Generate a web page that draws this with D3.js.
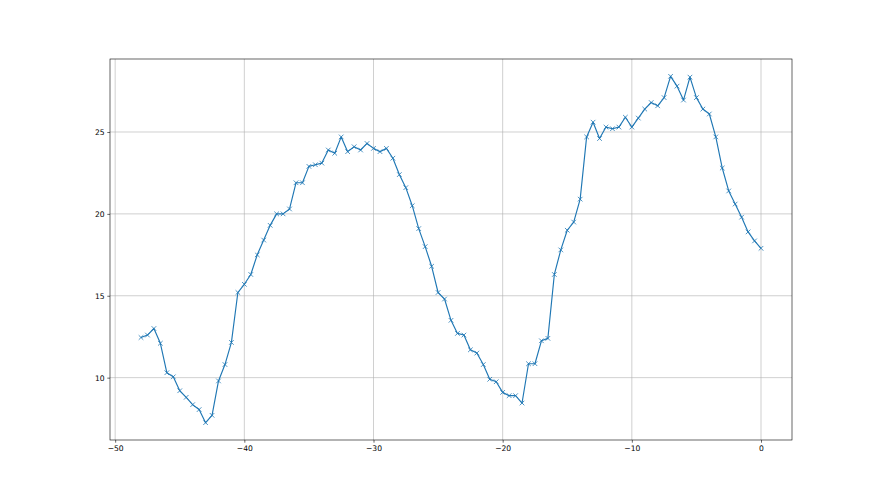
<!DOCTYPE html>
<html>
<head>
<meta charset="utf-8">
<script src="https://cdn.jsdelivr.net/npm/d3@7"></script>
<style>
  body { margin: 0; background: #fff; }
  svg text { font-family: "DejaVu Sans", sans-serif; font-size: 7.6px; fill: #000; }
</style>
</head>
<body>
<svg id="canvas" width="880" height="495"></svg>
<script>
// x runs from -48 to 0 in steps of 0.5
let xStart = -48;
let xStep = 0.5;
let yValues = [
  12.45, 12.6, 13.0, 12.1, 10.3, 10.05, 9.2, 8.8, 8.35, 8.05,
  7.25, 7.7, 9.8, 10.8, 12.15, 15.2, 15.7, 16.3, 17.5, 18.4,
  19.3, 20.0, 20.0, 20.3, 21.9, 21.9, 22.9, 23.0, 23.1, 23.9,
  23.7, 24.7, 23.8, 24.1, 23.9, 24.3, 24.0, 23.8, 24.0, 23.4,
  22.4, 21.6, 20.5, 19.1, 18.0, 16.8, 15.2, 14.8, 13.5, 12.7,
  12.6, 11.7, 11.5, 10.8, 9.9, 9.75, 9.1, 8.9, 8.9, 8.45,
  10.85, 10.85, 12.25, 12.4, 16.3, 17.8, 19.0, 19.5, 20.9, 24.7,
  25.6, 24.6, 25.3, 25.2, 25.3, 25.9, 25.3, 25.85, 26.4, 26.8,
  26.6, 27.1, 28.4, 27.8, 26.95, 28.35, 27.1, 26.4, 26.1, 24.7,
  22.8, 21.4, 20.6, 19.8, 18.9, 18.35, 17.9
];
let xTicks = [-50, -40, -30, -20, -10, 0];
let yTicks = [10, 15, 20, 25];

let points = yValues.map((v, i) => ({ x: xStart + i * xStep, y: v }));

let svg = d3.select('#canvas');
let plotLeft = 110, plotRight = 792, plotTop = 59, plotBottom = 440;

let xMin = d3.min(points, d => d.x), xMax = d3.max(points, d => d.x);
let yMin = d3.min(points, d => d.y), yMax = d3.max(points, d => d.y);
let xPad = (xMax - xMin) * 0.05, yPad = (yMax - yMin) * 0.05;

let x = d3.scaleLinear().domain([xMin - xPad, xMax + xPad]).range([plotLeft, plotRight]);
let y = d3.scaleLinear().domain([yMin - yPad, yMax + yPad]).range([plotBottom, plotTop]);

let fmt = d => (d < 0 ? '\u2212' + Math.abs(d) : '' + d);

// grid
svg.append('g')
  .selectAll('line')
  .data(xTicks)
  .enter()
  .append('line')
  .attr('x1', d => x(d)).attr('x2', d => x(d))
  .attr('y1', plotTop).attr('y2', plotBottom)
  .attr('stroke', '#b0b0b0').attr('stroke-width', 0.6);
svg.append('g')
  .selectAll('line')
  .data(yTicks)
  .enter()
  .append('line')
  .attr('x1', plotLeft).attr('x2', plotRight)
  .attr('y1', d => y(d)).attr('y2', d => y(d))
  .attr('stroke', '#b0b0b0').attr('stroke-width', 0.6);

// axes
let xAxis = svg.append('g')
  .attr('transform', 'translate(0,' + plotBottom + ')')
  .call(d3.axisBottom(x).tickValues(xTicks).tickFormat(fmt).tickSizeInner(2.7).tickSizeOuter(0).tickPadding(2.7));
let yAxis = svg.append('g')
  .attr('transform', 'translate(' + plotLeft + ',0)')
  .call(d3.axisLeft(y).tickValues(yTicks).tickFormat(fmt).tickSizeInner(2.7).tickSizeOuter(0).tickPadding(2.7));
[xAxis, yAxis].forEach(a => {
  a.select('.domain').remove();
  a.selectAll('line').attr('stroke', '#000').attr('stroke-width', 0.6);
  a.attr('font-size', null).attr('font-family', null);
});

// frame
svg.append('rect')
  .attr('x', plotLeft).attr('y', plotTop)
  .attr('width', plotRight - plotLeft).attr('height', plotBottom - plotTop)
  .attr('fill', 'none').attr('stroke', '#000').attr('stroke-width', 0.6);

// line
let line = d3.line().x(d => x(d.x)).y(d => y(d.y));
svg.append('path')
  .datum(points)
  .attr('d', line)
  .attr('fill', 'none')
  .attr('stroke', '#1f77b4')
  .attr('stroke-width', 1.15)
  .attr('stroke-linejoin', 'round');

// x markers
let m = 2.3;
svg.append('g')
  .selectAll('path')
  .data(points)
  .enter()
  .append('path')
  .attr('d', d => {
    let cx = x(d.x), cy = y(d.y);
    return 'M' + (cx - m) + ',' + (cy - m) + 'L' + (cx + m) + ',' + (cy + m) +
           'M' + (cx - m) + ',' + (cy + m) + 'L' + (cx + m) + ',' + (cy - m);
  })
  .attr('stroke', '#1f77b4')
  .attr('stroke-width', 0.8);
</script>
</body>
</html>
